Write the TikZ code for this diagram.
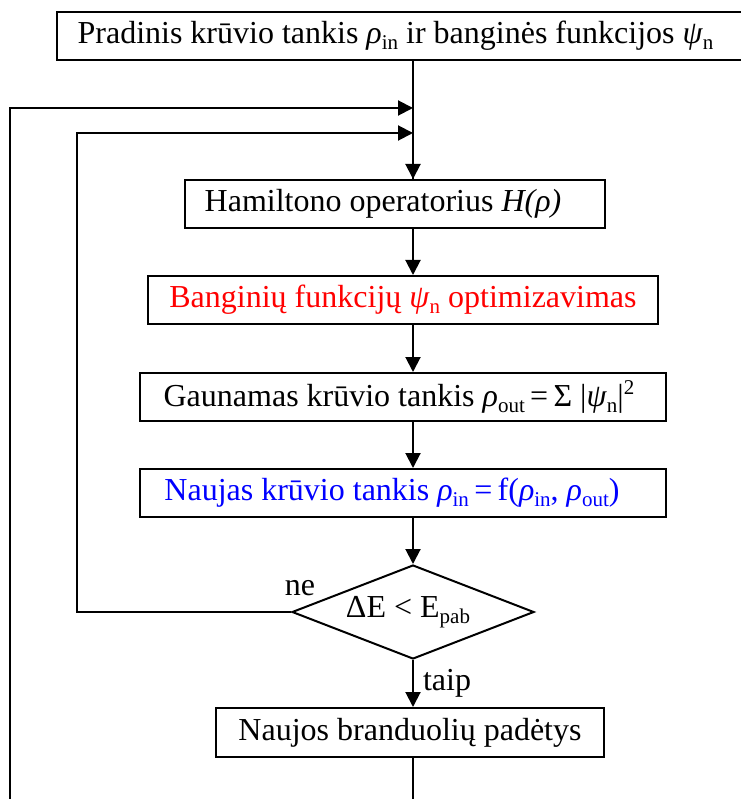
\documentclass[tikz,border=0pt]{standalone}
\usepackage{fontspec}
\setmainfont{Liberation Serif}
\usetikzlibrary{shapes.geometric,arrows.meta}
% lowered and raised indices in text size
\newcommand{\lo}[1]{\raisebox{-0.18em}{\fontsize{21}{21}\selectfont #1}}
\newcommand{\hi}[1]{\raisebox{0.38em}{\fontsize{21}{21}\selectfont #1}}
\newcommand{\gr}[1]{\textit{#1}}
% move a box label sideways by half the given length
\newcommand{\nudge}[1]{\hspace*{#1}}
\begin{document}
\begin{tikzpicture}[x=1pt,y=-1pt,
  every node/.style={font=\fontsize{32}{37}\selectfont},
  stepbox/.style={draw, line width=2pt, inner sep=0pt},
  decbox/.style={draw, line width=2pt, shape=diamond, aspect=2.57, inner sep=0pt,
    minimum width=242pt, minimum height=94pt},
  flow/.style={line width=2pt, -{Triangle[length=15pt,width=15pt]}},
  plain/.style={line width=2pt}]
\useasboundingbox (0,0) rectangle (740,799);

\coordinate (sp) at (413,0);
\coordinate (inA) at (413,108);
\coordinate (inB) at (413,133);
\coordinate (endA) at (413,805);
\coordinate (retA) at (10,805);

\node[stepbox, minimum width=685pt, minimum height=48pt] (start) at (399.5,36)
  {\nudge{-8pt}Pradinis krūvio tankis \gr{ρ}\lo{in} ir banginės funkcijos \gr{ψ}\lo{n}};
\node[stepbox, minimum width=420pt, minimum height=48pt] (ham) at (395,204)
  {\nudge{-24pt}Hamiltono operatorius \textit{H(ρ)}};
\node[stepbox, minimum width=510pt, minimum height=48pt, text=red] (opt) at (403,300)
  {Banginių funkcijų \gr{ψ}\lo{n} optimizavimas};
\node[stepbox, minimum width=526pt, minimum height=48pt] (dens) at (403,397)
  {\nudge{-8pt}Gaunamas krūvio tankis \gr{ρ}\lo{out}\,=\,Σ |\gr{ψ}\lo{n}|\hi{2}};
\node[stepbox, minimum width=526pt, minimum height=48pt, text=blue] (mix) at (403,493)
  {\nudge{-22pt}Naujas krūvio tankis \gr{ρ}\lo{in}\,=\,f(\gr{ρ}\lo{in}, \gr{ρ}\lo{out})};
\node[decbox] (dec) at (413,612) {\nudge{-10pt}ΔE < E\lo{pab}};
\node[stepbox, minimum width=388pt, minimum height=49pt] (pos) at (410,732.5)
  {Naujos branduolių padėtys};

\node (ne) at (300,588) {ne};
\node (taip) at (447,683) {taip};

% main column
\draw[plain] (start.south -| sp) -- (ham.north -| sp);
\draw[flow] (inB) -- (ham.north -| sp);
\draw[flow] (ham.south -| sp) -- (opt.north -| sp);
\draw[flow] (opt.south -| sp) -- (dens.north -| sp);
\draw[flow] (dens.south -| sp) -- (mix.north -| sp);
\draw[flow] (mix.south -| sp) -- (dec.north);
\draw[flow] (dec.south) -- (pos.north -| sp);
\draw[plain] (pos.south -| sp) -- (endA);

% feedback loops
\draw[flow] (dec.west) -- ++(-214,0) |- (inB);
\draw[flow] (retA) |- (inA);
\end{tikzpicture}
\end{document}
